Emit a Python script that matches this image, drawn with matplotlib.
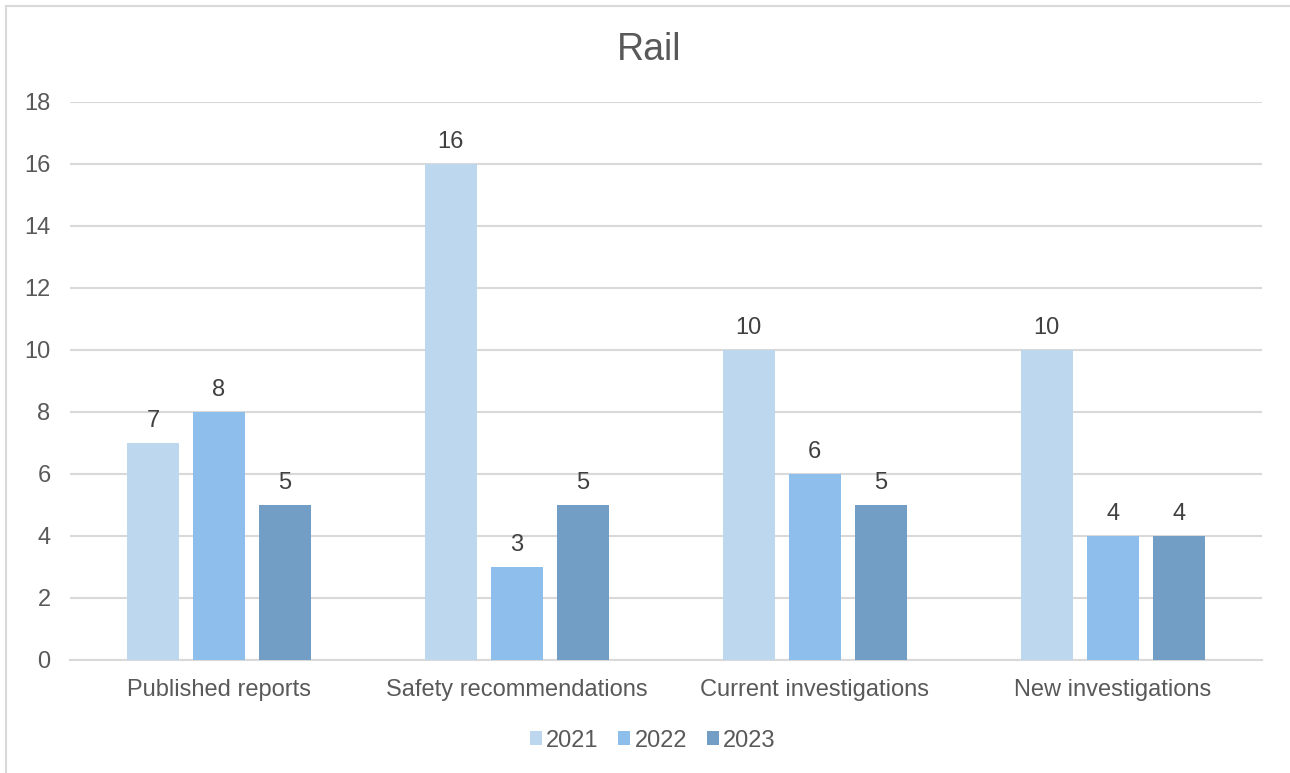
import matplotlib.pyplot as plt
import numpy as np
from matplotlib.patches import Rectangle

categories = ['Published reports', 'Safety recommendations', 'Current investigations', 'New investigations']
years = ['2021', '2022', '2023']
vals_2021 = [7, 16, 10, 10]
vals_2022 = [8, 3, 6, 4]
vals_2023 = [5, 5, 5, 4]
colors = ['#BDD7EE', '#8DBEEC', '#729DC5']

plt.rcParams['font.family'] = ['Liberation Sans', 'DejaVu Sans']

fig = plt.figure(figsize=(12.9, 7.73), dpi=100)
ax = fig.add_axes([0.0543, 0.1462, 0.9237, 0.7219])

x = np.arange(len(categories))
width = 0.1745
step = 0.2215
series = [vals_2021, vals_2022, vals_2023]
for i, (vals, lab, c) in enumerate(zip(series, years, colors)):
    bars = ax.bar(x + (i - 1) * step, vals, width, color=c, label=lab, zorder=3)
    ax.bar_label(bars, padding=8, fontsize=17, color='#404040')

ax.set_xlim(-0.5, 3.5)
ax.set_ylim(0, 18)
ax.set_yticks(range(0, 19, 2))
ax.set_xticks(x)
ax.set_xticklabels(categories)
ax.grid(axis='y', color='#D9D9D9', linewidth=1.5, zorder=0)
for s in ['top', 'right', 'left']:
    ax.spines[s].set_visible(False)
ax.spines['bottom'].set_color('#D9D9D9')
ax.spines['bottom'].set_linewidth(1.5)
ax.tick_params(axis='both', length=0, labelsize=17, colors='#595959')
ax.tick_params(axis='y', pad=14)
ax.tick_params(axis='x', pad=14)

# title centred on the whole chart, not the plot area
fig.text(0.503, 0.935, 'Rail', fontsize=27, color='#595959', ha='center', va='center')

leg = fig.legend(loc='center', bbox_to_anchor=(0.506, 0.042), ncol=3, frameon=False,
                 fontsize=17, labelcolor='#595959', handlelength=0.5, handleheight=0.5,
                 handletextpad=0.18, columnspacing=0.85)

# chart border (only left and top inside the picture)
fig.patches.append(Rectangle((6 / 1290, -0.05), 1.2, (773 - 6) / 773 + 0.05,
                             transform=fig.transFigure, fill=False,
                             edgecolor='#D9D9D9', linewidth=1.5))

fig.savefig('out.png', dpi=100)
